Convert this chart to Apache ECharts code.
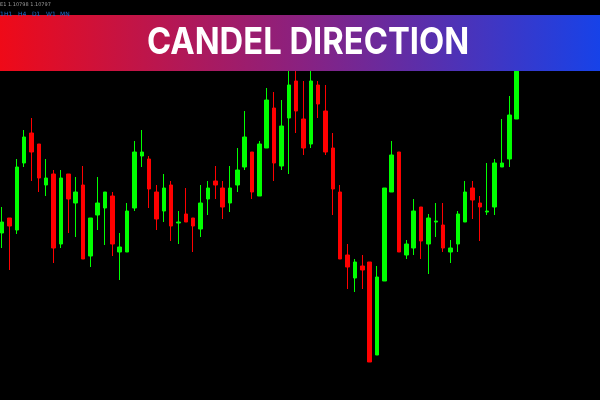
<!DOCTYPE html>
<html>
<head>
<meta charset="utf-8">
<script src="https://cdn.jsdelivr.net/npm/echarts@6/dist/echarts.min.js"></script>
<style>
html,body{margin:0;padding:0;background:#000;}
#chart{width:600px;height:400px;}
</style>
</head>
<body>
<div id="chart"></div>
<script>
// Price levels (unlabelled axis, arbitrary units)
var opens  = [167,182,170,237,267,256,215,226,156,226,197,215,144,185,192,204,148,148,192,244,241,208,189,215,177,186,182,171,201,219,212,197,215,233,248,204,252,292,234,282,319,281,256,315,289,252,208,145,122,134,138,45,119,208,248,145,152,193,156,178,175,148,156,178,212,197,188,193,233,241,281];
var closes = [178,174,233,263,248,222,222,152,222,201,208,141,182,197,208,156,153,189,248,248,211,181,212,174,178,178,174,197,212,215,193,212,230,263,208,256,300,237,274,315,289,252,319,296,248,211,141,133,138,130,38,123,212,245,148,156,189,159,182,179,152,152,186,208,200,193,189,237,237,285,334];
var lows   = [152,130,166,233,219,208,204,137,152,167,163,141,133,170,155,144,120,148,189,233,192,170,178,159,156,178,148,163,185,201,181,188,208,230,201,204,252,219,230,226,267,245,252,282,245,185,141,111,108,111,38,45,119,208,148,141,145,141,126,163,148,137,148,178,181,159,185,185,233,233,281];
var highs  = [193,182,241,270,282,256,241,230,230,226,223,234,182,223,208,208,167,197,259,270,244,215,226,219,189,212,182,215,219,234,219,234,252,289,248,259,312,308,300,338,334,319,336,319,315,267,215,156,141,145,138,134,212,259,248,160,201,193,186,197,197,160,189,219,219,204,237,241,281,304,345];
var slotCount = 81; // number of bar slots across the window (71 bars + empty space on the right)
var timeframes = ['1','H1','H4','D1','W1','MN'];
var titleText = 'CANDEL DIRECTION';
var infoText = 'E1 1.10798 1.10797';

var categories = [];
for (var i = 0; i < slotCount; i++) categories.push(String(i + 1));
var ohlc = opens.map(function (o, i) { return [o, closes[i], lows[i], highs[i]]; });

var tfX = [0, 4, 18, 32, 46, 60];
var graphics = [
  {
    type: 'rect', left: 0, top: 15, z: 100,
    shape: { width: 600, height: 56 },
    style: {
      fill: {
        type: 'linear', x: 0, y: 0, x2: 1, y2: 0,
        colorStops: [
          { offset: 0, color: '#ef0a18' },
          { offset: 0.5, color: '#8a2180' },
          { offset: 1, color: '#1742e8' }
        ]
      }
    }
  },
  {
    type: 'text', z: 101, x: 308, y: 43, scaleX: 0.885,
    style: {
      text: titleText, fill: '#ffffff',
      font: '700 37px Inter, "Open Sans", sans-serif',
      align: 'center', verticalAlign: 'middle'
    }
  },
  {
    type: 'text', z: 101, x: 0, y: 2,
    style: { text: infoText, fill: '#9a9a9a', font: '5px "DejaVu Sans"', align: 'left', verticalAlign: 'top' }
  }
];
timeframes.forEach(function (t, i) {
  graphics.push({
    type: 'text', z: 101, x: tfX[i], y: 11,
    style: { text: t, fill: '#1f6fd0', font: '6px "DejaVu Sans"', align: 'left', verticalAlign: 'top' }
  });
});

var chart = echarts.init(document.getElementById('chart'));
chart.setOption({
  backgroundColor: '#000000',
  animation: false,
  grid: { left: 2.1, right: 9.9, top: 0, bottom: 0 },
  xAxis: {
    type: 'category', data: categories, boundaryGap: false,
    axisLine: { show: false }, axisTick: { show: false }, axisLabel: { show: false }, splitLine: { show: false }
  },
  yAxis: {
    type: 'value', min: 0, max: 400, scale: false,
    axisLine: { show: false }, axisTick: { show: false }, axisLabel: { show: false }, splitLine: { show: false }
  },
  series: [{
    type: 'candlestick',
    data: ohlc,
    clip: false,
    barWidth: 4,
    itemStyle: {
      color: '#00ff00', color0: '#ff0000',
      borderColor: '#00ff00', borderColor0: '#ff0000',
      borderWidth: 1
    }
  }],
  graphic: graphics
});
</script>
</body>
</html>
